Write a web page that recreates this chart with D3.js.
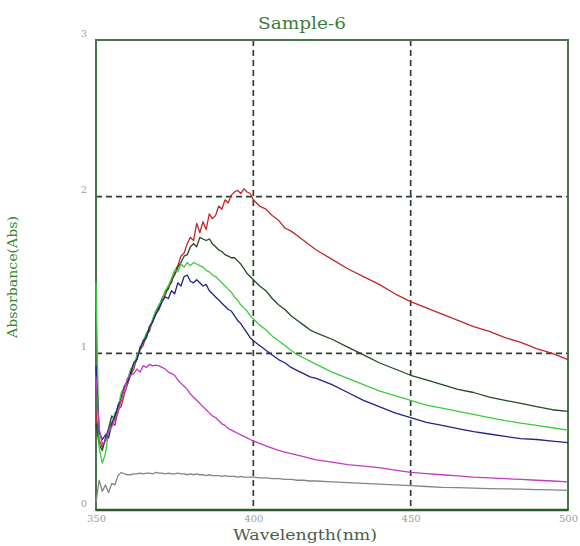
<!DOCTYPE html>
<html>
<head>
<meta charset="utf-8">
<script src="https://cdn.jsdelivr.net/npm/d3@7/dist/d3.min.js"></script>
<style>
  html, body { margin: 0; padding: 0; background: #ffffff; }
  svg { display: block; }
</style>
</head>
<body>
<svg id="chart" width="580" height="546"></svg>
<script>
// Wavelength grid (nm) shared by every spectrum
const wavelengths = [
  350,351,352,353,354,355,356,357,358,359,360,361,362,363,364,365,366,367,368,369,
  370,371,372,373,374,375,376,377,378,379,380,381,382,383,384,385,386,387,388,389,
  390,391,392,393,394,395,396,397,398,399,400,402,404,406,408,410,412,414,416,418,
  420,425,430,435,440,445,450,455,460,465,470,475,480,485,490,495,500
];

// Absorbance values, one array per spectrum
const redAbs = [
  0.62,0.45,0.40,0.44,0.50,0.56,0.54,0.64,0.66,0.74,0.80,0.86,0.90,0.97,1.02,1.05,1.12,1.14,1.21,1.25,
  1.29,1.34,1.37,1.43,1.45,1.52,1.56,1.62,1.64,1.70,1.74,1.72,1.83,1.77,1.84,1.79,1.89,1.86,1.88,1.94,
  1.92,1.98,1.96,2.01,2.03,2.04,2.02,2.05,2.03,2.02,1.98,1.94,1.92,1.88,1.85,1.80,1.78,1.75,1.72,1.69,
  1.66,1.60,1.54,1.49,1.44,1.38,1.33,1.29,1.25,1.21,1.17,1.14,1.10,1.07,1.03,1.00,0.96
];
const darkGreenAbs = [
  0.55,0.42,0.38,0.46,0.52,0.60,0.58,0.67,0.72,0.78,0.82,0.88,0.93,0.96,1.04,1.07,1.10,1.17,1.20,1.27,
  1.30,1.35,1.39,1.41,1.47,1.50,1.55,1.58,1.62,1.63,1.68,1.70,1.68,1.74,1.73,1.72,1.73,1.70,1.68,1.66,
  1.65,1.63,1.62,1.61,1.61,1.59,1.57,1.54,1.51,1.49,1.47,1.43,1.40,1.35,1.31,1.28,1.24,1.21,1.18,1.15,
  1.13,1.09,1.04,0.99,0.94,0.90,0.86,0.83,0.80,0.77,0.75,0.72,0.70,0.68,0.66,0.64,0.63
];
const greenAbs = [
  1.45,0.40,0.30,0.36,0.50,0.55,0.62,0.64,0.75,0.78,0.83,0.90,0.92,0.99,1.02,1.08,1.13,1.16,1.22,1.27,
  1.31,1.34,1.40,1.43,1.48,1.53,1.52,1.57,1.55,1.58,1.56,1.58,1.57,1.56,1.55,1.53,1.52,1.50,1.49,1.47,
  1.45,1.43,1.41,1.39,1.36,1.34,1.31,1.29,1.27,1.24,1.22,1.18,1.15,1.11,1.08,1.05,1.02,0.99,0.97,0.95,
  0.93,0.88,0.84,0.80,0.76,0.73,0.70,0.67,0.65,0.63,0.61,0.59,0.57,0.555,0.54,0.525,0.51
];
const blueAbs = [
  0.92,0.50,0.45,0.48,0.46,0.55,0.60,0.66,0.70,0.79,0.82,0.87,0.94,0.96,1.03,1.08,1.10,1.17,1.20,1.25,
  1.28,1.33,1.36,1.35,1.40,1.38,1.45,1.43,1.49,1.50,1.46,1.45,1.47,1.45,1.43,1.44,1.40,1.38,1.36,1.34,
  1.32,1.30,1.28,1.27,1.24,1.21,1.19,1.16,1.13,1.10,1.08,1.05,1.02,0.99,0.96,0.94,0.91,0.89,0.87,0.85,
  0.84,0.80,0.75,0.70,0.66,0.62,0.59,0.56,0.54,0.52,0.50,0.485,0.47,0.455,0.45,0.44,0.43
];
const magentaAbs = [
  0.85,0.52,0.42,0.44,0.50,0.53,0.58,0.62,0.70,0.77,0.84,0.86,0.87,0.90,0.88,0.92,0.91,0.93,0.92,0.925,
  0.92,0.91,0.90,0.88,0.87,0.86,0.83,0.81,0.79,0.77,0.74,0.72,0.70,0.68,0.66,0.64,0.62,0.60,0.59,0.57,
  0.55,0.54,0.52,0.51,0.50,0.49,0.48,0.47,0.46,0.45,0.44,0.425,0.41,0.395,0.38,0.37,0.36,0.35,0.34,0.33,
  0.32,0.305,0.29,0.28,0.27,0.255,0.24,0.232,0.225,0.218,0.21,0.205,0.20,0.195,0.19,0.185,0.18
];
const greyAbs = [
  0.05,0.19,0.12,0.16,0.11,0.17,0.16,0.22,0.24,0.23,0.225,0.225,0.23,0.23,0.235,0.23,0.235,0.235,0.23,0.24,
  0.235,0.235,0.23,0.235,0.23,0.23,0.235,0.23,0.23,0.225,0.23,0.225,0.23,0.225,0.225,0.22,0.225,0.22,0.22,0.22,
  0.215,0.22,0.215,0.215,0.215,0.21,0.215,0.21,0.21,0.21,0.21,0.205,0.205,0.20,0.20,0.195,0.195,0.19,0.19,0.185,
  0.185,0.18,0.175,0.17,0.165,0.16,0.155,0.15,0.145,0.143,0.14,0.137,0.135,0.133,0.13,0.128,0.125
];

const xTicks = [350, 400, 450, 500];
const yTicks = [0, 1, 2, 3];
const xGrid = [400, 450];
const yGrid = [1, 2];

const titleText = "Sample-6";
const xTitle = "Wavelength(nm)";
const yTitle = "Absorbance(Abs)";

// Spectra in drawing order (later ones sit on top)
const spectra = [
  { values: greyAbs,      color: "#858585" },
  { values: redAbs,       color: "#c02828" },
  { values: darkGreenAbs, color: "#1f4d1f" },
  { values: greenAbs,     color: "#3ccc3c" },
  { values: blueAbs,      color: "#22228a" },
  { values: magentaAbs,   color: "#c03cc0" }
];

const svg = d3.select("#chart");
const plot = { left: 96, top: 40, right: 568, bottom: 510 };

const x = d3.scaleLinear().domain([350, 500]).range([plot.left, plot.right]);
const y = d3.scaleLinear().domain([0, 3]).range([plot.bottom, plot.top]);

const serif = "'DejaVu Serif', 'Liberation Serif', serif";

// Dashed grid
const grid = svg.append("g")
  .attr("stroke", "#303f33")
  .attr("stroke-width", 1.7)
  .attr("stroke-dasharray", "6,4");
grid.selectAll("line.vx").data(xGrid).join("line")
  .attr("x1", d => x(d)).attr("x2", d => x(d))
  .attr("y1", plot.top).attr("y2", plot.bottom);
grid.selectAll("line.hy").data(yGrid).join("line")
  .attr("x1", plot.left).attr("x2", plot.right)
  .attr("y1", d => y(d)).attr("y2", d => y(d));

// Plot frame
svg.append("rect")
  .attr("x", plot.left).attr("y", plot.top)
  .attr("width", plot.right - plot.left).attr("height", plot.bottom - plot.top)
  .attr("fill", "none")
  .attr("stroke", "#4a754a")
  .attr("stroke-width", 2);
svg.append("line")
  .attr("x1", plot.left).attr("x2", plot.right)
  .attr("y1", plot.bottom).attr("y2", plot.bottom)
  .attr("stroke", "#2f5a2f").attr("stroke-width", 2.5);

// Spectra
const line = d3.line()
  .x((d, i) => x(wavelengths[i]))
  .y(d => y(d));
svg.append("g").selectAll("path").data(spectra).join("path")
  .attr("d", d => line(d.values))
  .attr("fill", "none")
  .attr("stroke", d => d.color)
  .attr("stroke-width", 1.3)
  .attr("stroke-linejoin", "round");

// Axes (labels only)
const xAxis = svg.append("g")
  .attr("transform", `translate(0,${plot.bottom + 2})`)
  .call(d3.axisBottom(x).tickValues(xTicks).tickSize(0).tickFormat(d3.format("d")));
const yAxis = svg.append("g")
  .attr("transform", `translate(${plot.left - 6},-7)`)
  .call(d3.axisLeft(y).tickValues(yTicks).tickSize(0).tickFormat(d3.format("d")));
[xAxis, yAxis].forEach(a => {
  a.select(".domain").remove();
  a.selectAll("text")
    .attr("fill", "#a0a0a0")
    .style("font-family", serif)
    .style("font-size", "10px");
});

// Titles
svg.append("text")
  .attr("x", 302).attr("y", 29)
  .attr("text-anchor", "middle")
  .attr("fill", "#3c7d3c")
  .attr("textLength", 88)
  .attr("lengthAdjust", "spacingAndGlyphs")
  .style("font-family", serif)
  .style("font-size", "16px")
  .text(titleText);

svg.append("text")
  .attr("x", 305).attr("y", 540)
  .attr("text-anchor", "middle")
  .attr("fill", "#4a5e4a")
  .attr("textLength", 144)
  .attr("lengthAdjust", "spacingAndGlyphs")
  .style("font-family", serif)
  .style("font-size", "14px")
  .text(xTitle);

svg.append("text")
  .attr("transform", "translate(17,277) rotate(-90)")
  .attr("text-anchor", "middle")
  .attr("fill", "#2e8a2e")
  .attr("textLength", 122)
  .attr("lengthAdjust", "spacingAndGlyphs")
  .style("font-family", serif)
  .style("font-size", "13px")
  .text(yTitle);
</script>
</body>
</html>
